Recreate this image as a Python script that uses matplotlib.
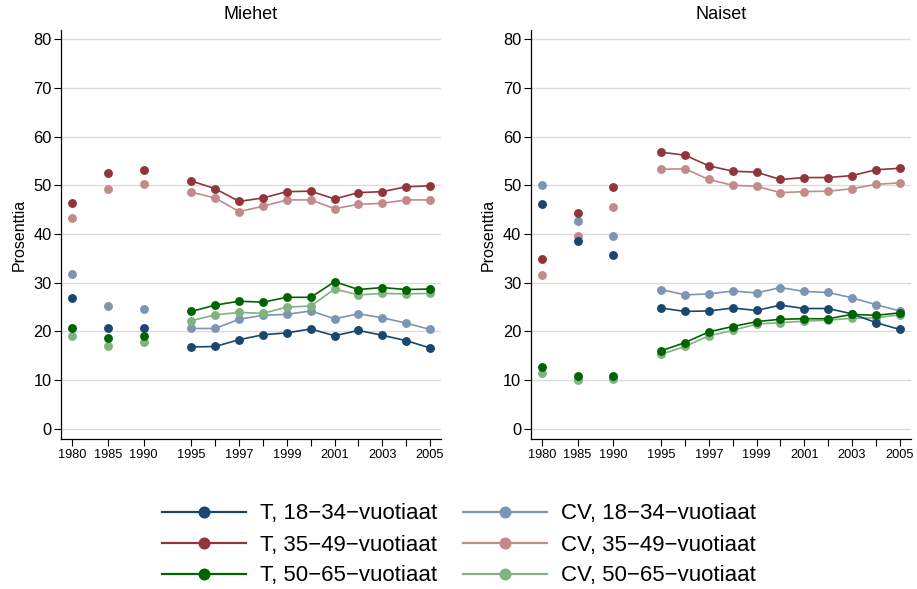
import matplotlib
matplotlib.use("Agg")
import matplotlib.pyplot as plt
import numpy as np

plt.rcParams['font.family'] = ['Liberation Sans', 'DejaVu Sans']

years = [1980, 1985, 1990, 1995, 1996, 1997, 1998, 1999, 2000, 2001, 2002, 2003, 2004, 2005]
xpos = [0, 1.5, 3, 5, 6, 7, 8, 9, 10, 11, 12, 13, 14, 15]
tick_labels = ['1980', '1985', '1990', '1995', '', '1997', '', '1999', '', '2001', '', '2003', '', '2005']
panels = ['Miehet', 'Naiset']
series_names = ['T, 18\u221234\u2212vuotiaat', 'T, 35\u221249\u2212vuotiaat', 'T, 50\u221265\u2212vuotiaat',
                'CV, 18\u221234\u2212vuotiaat', 'CV, 35\u221249\u2212vuotiaat', 'CV, 50\u221265\u2212vuotiaat']

men_T_18_34 = [26.9, 20.7, 20.6, 16.8, 16.9, 18.3, 19.3, 19.7, 20.5, 19.1, 20.2, 19.2, 18.1, 16.6]
men_T_35_49 = [46.4, 52.6, 53.1, 50.9, 49.3, 46.7, 47.4, 48.7, 48.8, 47.2, 48.5, 48.7, 49.7, 49.9]
men_T_50_65 = [20.6, 18.6, 19.1, 24.1, 25.4, 26.2, 26.0, 27.0, 27.0, 30.2, 28.6, 29.0, 28.6, 28.7]
men_CV_18_34 = [31.8, 25.2, 24.7, 20.6, 20.6, 22.5, 23.3, 23.5, 24.2, 22.6, 23.6, 22.8, 21.7, 20.4]
men_CV_35_49 = [43.2, 49.3, 50.2, 48.6, 47.4, 44.6, 45.7, 47.0, 47.0, 45.2, 46.1, 46.3, 47.0, 47.0]
men_CV_50_65 = [19.0, 17.1, 17.8, 22.2, 23.4, 23.9, 23.7, 25.0, 25.2, 28.7, 27.5, 27.8, 27.7, 27.8]

women_T_18_34 = [46.2, 38.5, 35.6, 24.8, 24.1, 24.2, 24.8, 24.3, 25.4, 24.7, 24.7, 23.6, 21.8, 20.4]
women_T_35_49 = [34.8, 44.3, 49.6, 56.8, 56.2, 54.0, 52.9, 52.7, 51.2, 51.6, 51.6, 52.0, 53.2, 53.5]
women_T_50_65 = [12.7, 10.8, 10.8, 16.0, 17.7, 19.9, 21.0, 22.0, 22.5, 22.6, 22.6, 23.5, 23.3, 23.8]
women_CV_18_34 = [50.1, 42.7, 39.6, 28.6, 27.5, 27.7, 28.3, 27.9, 29.0, 28.2, 28.0, 26.9, 25.5, 24.2]
women_CV_35_49 = [31.5, 39.6, 45.5, 53.3, 53.4, 51.2, 50.0, 49.8, 48.5, 48.7, 48.8, 49.3, 50.2, 50.5]
women_CV_50_65 = [11.4, 10.0, 10.3, 15.3, 16.9, 19.1, 20.2, 21.5, 21.8, 22.1, 22.3, 22.7, 22.8, 23.4]

colors = ['#1a476f', '#90353b', '#006400', '#7b95b3', '#c4898b', '#80b380']

data = {
    'Miehet': [men_T_18_34, men_T_35_49, men_T_50_65, men_CV_18_34, men_CV_35_49, men_CV_50_65],
    'Naiset': [women_T_18_34, women_T_35_49, women_T_50_65, women_CV_18_34, women_CV_35_49, women_CV_50_65],
}

W, H = 917, 589
fig = plt.figure(figsize=(W / 100, H / 100), dpi=100)
lefts = [61.3, 531.0]
ax_w = 379.5
ax_top, ax_bot = 30, 439

handles = []
for pi, (name, left) in enumerate(zip(panels, lefts)):
    ax = fig.add_axes([left / W, 1 - ax_bot / H, ax_w / W, (ax_bot - ax_top) / H])
    for si, vals in enumerate(data[name]):
        c = colors[si]
        ln, = ax.plot(xpos[3:], vals[3:], color=c, lw=1.2, marker='o', ms=6.4,
                      markeredgewidth=0, zorder=3 + (0 if si >= 3 else 1))
        ax.plot(xpos[:3], vals[:3], color=c, lw=0, marker='o', ms=6.4,
                markeredgewidth=0, zorder=3 + (0 if si >= 3 else 1))
        if pi == 0:
            handles.append(ln)
    ax.set_xlim(-0.45, 15.45)
    ax.set_ylim(-2.1, 81.9)
    ax.set_yticks(range(0, 81, 10))
    ax.set_xticks(xpos)
    ax.set_xticklabels(tick_labels, fontsize=9.2)
    ax.tick_params(axis='y', labelsize=11.8, length=5, width=0.8, pad=2)
    ax.tick_params(axis='x', length=5, width=0.8, pad=2)
    ax.yaxis.grid(True, color='#dcdcdc', lw=1.0)
    ax.set_axisbelow(True)
    for s in ['top', 'right']:
        ax.spines[s].set_visible(False)
    for s in ['left', 'bottom']:
        ax.spines[s].set_linewidth(0.9)
    ax.set_ylabel('Prosenttia', fontsize=11.5, labelpad=5)
    ax.set_title(name, fontsize=13, pad=8)

leg = fig.legend(handles, series_names, ncol=2, loc='center', bbox_to_anchor=(0.5005, 1 - 545 / H),
                 frameon=False, fontsize=16, handlelength=3.74, handletextpad=0.63,
                 columnspacing=1.2, labelspacing=0.45, markerscale=1.35, borderpad=0.2)
for lh in leg.get_lines():
    lh.set_linewidth(1.6)

fig.savefig('out.png', dpi=100, facecolor='white')
